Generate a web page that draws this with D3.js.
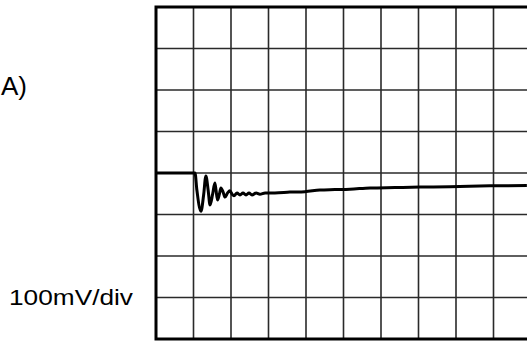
<!DOCTYPE html>
<html>
<head>
<meta charset="utf-8">
<script src="https://cdn.jsdelivr.net/npm/d3@7"></script>
<style>
  html, body { margin: 0; padding: 0; background: #fff; overflow: hidden; }
  svg { display: block; }
</style>
</head>
<body>
<script>
// Scope trace: time in divisions, voltage in mV (100 mV/div)
const timeDiv = [0, 1.04, 1.09, 1.20, 1.27, 1.33, 1.39, 1.44, 1.51, 1.57, 1.60, 1.64, 1.69, 1.73, 1.79, 1.84, 1.91, 1.97, 2.03, 2.08, 2.16, 2.24, 2.32, 2.40, 2.48, 2.56, 2.67, 2.77, 2.91, 3.17, 3.57, 3.97, 4.37, 4.77, 5.17, 5.71, 6.37, 7.04, 7.84, 8.91, 9.89];
const voltMv = [0, 0, -41, -92, -53, -7, -41, -77, -51, -24, -41, -65, -51, -36, -46, -58, -48, -43, -51, -55, -48, -53, -48, -53, -48, -53, -48, -51, -48, -48, -46, -45, -41, -40, -39, -36, -35, -34, -33, -31, -30];
const xDivs = d3.range(0, 11);          // 10 horizontal divisions
const yDivs = d3.range(-400, 401, 100); // 8 vertical divisions
const panelLabel = "A)";
const scaleLabel = "100mV/div";

const W = 527, H = 341;
const svg = d3.select("body").append("svg").attr("width", W).attr("height", H);

const x = d3.scaleLinear().domain([0, 10]).range([156, 531]);
const y = d3.scaleLinear().domain([-400, 400]).range([339, 7]);

// graticule
svg.append("g").selectAll("line.v").data(xDivs.slice(1, -1)).join("line")
  .attr("x1", d => x(d)).attr("x2", d => x(d))
  .attr("y1", y(400)).attr("y2", y(-400))
  .attr("stroke", "#2a2a2a").attr("stroke-width", 1.6);
svg.append("g").selectAll("line.h").data(yDivs.slice(1, -1)).join("line")
  .attr("x1", x(0)).attr("x2", x(10))
  .attr("y1", d => y(d)).attr("y2", d => y(d))
  .attr("stroke", "#2a2a2a").attr("stroke-width", 1.6);

// outer frame
svg.append("rect")
  .attr("x", x(0)).attr("y", y(400))
  .attr("width", x(10) - x(0)).attr("height", y(-400) - y(400))
  .attr("fill", "none").attr("stroke", "#000").attr("stroke-width", 3);

// trace
const pts = timeDiv.map((t, i) => [t, voltMv[i]]);
svg.append("path")
  .datum(pts)
  .attr("fill", "none")
  .attr("stroke", "#000")
  .attr("stroke-width", 3)
  .attr("stroke-linejoin", "round")
  .attr("d", d3.line().x(d => x(d[0])).y(d => y(d[1])).curve(d3.curveMonotoneX));

// labels
svg.append("text")
  .attr("x", 1).attr("y", 95)
  .attr("font-family", "Liberation Sans, Arial, sans-serif")
  .attr("font-size", 26)
  .attr("fill", "#000")
  .text(panelLabel);

svg.append("text")
  .attr("x", 9).attr("y", 305)
  .attr("font-family", "Liberation Sans, Arial, sans-serif")
  .attr("font-size", 22)
  .attr("textLength", 124)
  .attr("lengthAdjust", "spacingAndGlyphs")
  .attr("fill", "#000")
  .text(scaleLabel);
</script>
</body>
</html>
